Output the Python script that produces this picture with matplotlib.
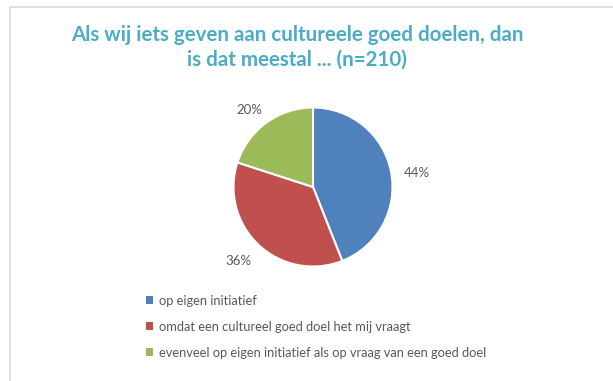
import matplotlib.pyplot as plt
from matplotlib.patches import Rectangle

# --- data ---
labels = [
    "op eigen initiatief",
    "omdat een cultureel goed doel het mij vraagt",
    "evenveel op eigen initiatief als op vraag van een goed doel",
]
values = [44, 36, 20]
colors = ["#4F81BD", "#C0504D", "#9BBB59"]
title = "Als wij iets geven aan cultureele goed doelen, dan\nis dat meestal ... (n=210)"

W, H = 613, 381
fig = plt.figure(figsize=(W / 100, H / 100), dpi=100)
fig.patch.set_facecolor("white")

# light chart frame
fig.patches.append(Rectangle((10 / W, -0.1), 1.2, (H - 7) / H + 0.1,
                             transform=fig.transFigure, fill=False,
                             edgecolor="#D9D9D9", linewidth=1.2))

# title
fig.text(297 / W, 1 - 47 / H, title, ha="center", va="center",
         fontsize=14.8, fontweight="bold", color="#4BACC6",
         family="Lato", linespacing=1.3)

# pie
cx, cy, r = 313, 187, 79.5
ax = fig.add_axes([(cx - r) / W, (H - cy - r) / H, 2 * r / W, 2 * r / H])
wedges, _, autotexts = ax.pie(values, colors=colors, startangle=90, counterclock=False,
                              autopct="%d%%", pctdistance=1.28,
                              wedgeprops=dict(edgecolor="white", linewidth=1.5))
# small nudges of the percentage labels (pixels: right, down)
nudges = [(3.5, 5), (-4.5, 0), (-3.5, 5)]
for t, (nx, ny) in zip(autotexts, nudges):
    x, y = t.get_position()
    t.set_position((x + nx / r, y - ny / r))
    t.set_color("#595959")
    t.set_fontsize(9.5)
    t.set_family("Lato")
ax.set_aspect("equal")
ax.set_xlim(-1, 1)
ax.set_ylim(-1, 1)

# legend
leg = fig.legend(wedges, labels, loc="upper left",
                 bbox_to_anchor=(134 / W, 1 - 283 / H), frameon=False,
                 handlelength=0.55, handleheight=0.55, handletextpad=0.5,
                 labelspacing=1.08, prop=dict(family="Lato", size=9.3))
for t in leg.get_texts():
    t.set_color("#595959")
for h in leg.legend_handles:
    h.set_edgecolor("none")

fig.savefig("out.png", dpi=100)
